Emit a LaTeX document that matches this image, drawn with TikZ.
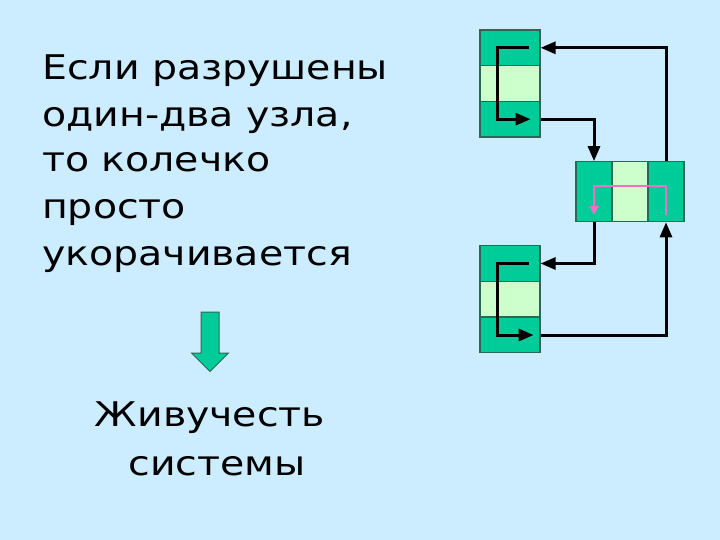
\documentclass[tikz,border=0pt]{standalone}
\usepackage{fontspec}
\setmainfont[FakeStretch=1.16]{DejaVu Sans}
\usetikzlibrary{arrows.meta}
\definecolor{bg}{HTML}{CCECFF}
\definecolor{dkg}{HTML}{00CC99}
\definecolor{ltg}{HTML}{CCFFCC}
\definecolor{edge}{HTML}{2E6656}
\definecolor{pink}{HTML}{F070C8}
\tikzset{
  cellD/.style={draw=edge, line width=1.2pt, fill=dkg, inner sep=0pt, minimum width=60pt, minimum height=35.7pt},
  cellL/.style={cellD, fill=ltg},
  mcellD/.style={draw=edge, line width=1.2pt, fill=dkg, inner sep=0pt, minimum width=36pt, minimum height=60pt},
  mcellL/.style={mcellD, fill=ltg},
  link/.style={line width=3pt, draw=black, -{Triangle[length=15pt,width=12pt]}},
  plink/.style={line width=2.2pt, draw=pink, -{Triangle[length=9pt,width=9pt]}},
  txt/.style={font=\fontsize{34}{40}\selectfont, inner sep=0pt, text=black},
}
\begin{document}
\begin{tikzpicture}[x=1pt,y=-1pt]
\fill[bg] (0,0) rectangle (720,540);
\useasboundingbox (0,0) rectangle (720,540);
% text
\node[txt, anchor=base west] (l1) at (42,80) {Если разрушены};
\node[txt, anchor=base west] (l2) at (42,126.5) {один-два узла,};
\node[txt, anchor=base west] (l3) at (42,172) {то колечко};
\node[txt, anchor=base west] (l4) at (42,218.5) {просто};
\node[txt, anchor=base west] (l5) at (42,265) {укорачивается};
\node[txt, anchor=base] (s1) at (210,426.7) {Живучесть};
\node[txt, anchor=base] (s2) at (217,475) {системы};
% big green arrow
\draw[draw=edge, line width=1pt, fill=dkg] (201,312) -- (219,312) -- (219,353) -- (228.5,353) -- (210,371.5) -- (191.5,353) -- (201,353) -- cycle;
% top box
\node[cellD] (t1) at (510,47.8) {};
\node[cellL] (t2) at (510,83.5) {};
\node[cellD] (t3) at (510,119.2) {};
% middle box
\node[mcellD] (m1) at (594,191.7) {};
\node[mcellL] (m2) at (630,191.7) {};
\node[mcellD] (m3) at (666,191.7) {};
% bottom box
\node[cellD] (b1) at (510,263.5) {};
\node[cellL] (b2) at (510,299.2) {};
\node[cellD] (b3) at (510,335) {};
% internal links
\coordinate (ts) at ([xshift=-12pt]t1.east);
\coordinate (te) at ([xshift=-10pt]t3.east);
\draw[link] (ts) -- ([xshift=17.7pt]t1.west) |- (te);
\coordinate (bs) at ([xshift=-12pt]b1.east);
\coordinate (be) at ([xshift=-7pt]b3.east);
\draw[link] (bs) -- ([xshift=17.7pt]b1.west) |- (be);
% outer links
\draw[link] (t3.east) -| (m1.north);
\draw[link] (m3.north) |- (t1.east);
\draw[link] (m1.south) |- (b1.east);
\draw[link] (b3.east) -| (m3.south);
% pink link
\coordinate (ps) at ([yshift=7pt]m3.south);
\coordinate (pe) at ([yshift=7.5pt]m1.south);
\draw[plink] (ps) -- ([yshift=6pt]m3.center) -| (pe);
\end{tikzpicture}
\end{document}
